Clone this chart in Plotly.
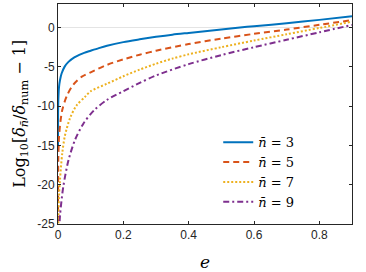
import plotly.graph_objects as go

# ---- data ----
e_n3 = [0.00002, 0.0003, 0.001, 0.003, 0.006, 0.011, 0.02, 0.032, 0.05, 0.065, 0.08, 0.1, 0.125, 0.15,
        0.2, 0.25, 0.3, 0.35, 0.4, 0.5, 0.55, 0.6, 0.7, 0.8, 0.9]
v_n3 = [-15, -11, -9.2, -7.6, -6.7, -5.85, -5.0, -4.37, -3.8, -3.48, -3.22, -2.95, -2.62, -2.32,
        -1.85, -1.5, -1.18, -0.9, -0.68, -0.25, -0.02, 0.18, 0.55, 0.98, 1.45]

e_n5 = [0.00003, 0.0003, 0.001, 0.003, 0.006, 0.013, 0.027, 0.047, 0.073, 0.1, 0.15, 0.2, 0.25, 0.3,
        0.4, 0.5, 0.6, 0.7, 0.8, 0.9]
v_n5 = [-26, -20, -16.5, -14, -12.5, -10.5, -8.7, -7.25, -6.25, -5.7, -4.75, -4.05, -3.45, -2.95,
        -2.1, -1.4, -0.8, -0.25, 0.35, 0.95]

e_n7 = [0.0002, 0.001, 0.003, 0.006, 0.013, 0.021, 0.037, 0.057, 0.083, 0.1, 0.15, 0.2, 0.25, 0.3,
        0.35, 0.4, 0.5, 0.6, 0.7, 0.8, 0.9]
v_n7 = [-30, -25, -21.5, -19.4, -16, -13.8, -11.5, -9.9, -8.8, -8.1, -7.15, -6.2, -5.35, -4.6,
        -3.95, -3.4, -2.5, -1.65, -0.85, -0.05, 0.75]

e_n9 = [0.001, 0.003, 0.006, 0.016, 0.032, 0.052, 0.078, 0.111, 0.15, 0.2, 0.25, 0.3, 0.4, 0.5,
        0.6, 0.7, 0.8, 0.9]
v_n9 = [-30, -26.5, -24, -20.3, -16.9, -14.3, -12.2, -10.5, -9.2, -8.1, -7.05, -6.1, -4.65, -3.5,
        -2.5, -1.55, -0.6, 0.33]

series_names = ["<i>n̄</i> = 3", "<i>n̄</i> = 5", "<i>n̄</i> = 7", "<i>n̄</i> = 9"]
x_ticks = [0, 0.2, 0.4, 0.6, 0.8]
x_ticklabels = ["0", "0.2", "0.4", "0.6", "0.8"]
y_ticks = [-25, -20, -15, -10, -5, 0]
y_ticklabels = ["-25", "-20", "-15", "-10", "-5", "0"]

colors = ["#0072BD", "#D95319", "#EDB120", "#7E2F8E"]
dashes = ["solid", "6px,4px", "2px,2px", "6px,3px,2px,3px"]

fig = go.Figure()
for ex, vy, name, c, d in zip([e_n3, e_n5, e_n7, e_n9], [v_n3, v_n5, v_n7, v_n9],
                              series_names, colors, dashes):
    fig.add_trace(go.Scatter(x=ex, y=vy, mode="lines", name=name,
                             line=dict(color=c, width=2, dash=d, shape="spline", smoothing=0.8)))

axis_col = "#262626"
fig.update_layout(
    width=366, height=272,
    margin=dict(l=58, r=14, t=4, b=48, autoexpand=False),
    paper_bgcolor="white", plot_bgcolor="white",
    font=dict(family="Liberation Sans, Arial, sans-serif", size=12, color=axis_col),
    showlegend=True,
    legend=dict(x=0.545, y=0.44, xanchor="left", yanchor="top",
                bgcolor="rgba(255,255,255,0)", borderwidth=0,
                font=dict(family="DejaVu Serif, serif", size=13, color="#000"),
                tracegroupgap=0),
    xaxis=dict(range=[0, 0.9], tickvals=x_ticks, ticktext=x_ticklabels,
               ticks="inside", ticklen=3, tickcolor=axis_col, showgrid=False,
               zeroline=False, showline=True, linecolor=axis_col, linewidth=1,
               mirror="ticks", fixedrange=True, automargin=False),
    yaxis=dict(range=[-25, 3], tickvals=y_ticks, ticktext=y_ticklabels,
               ticks="inside", ticklen=3, tickcolor=axis_col, showgrid=False,
               zeroline=True, zerolinecolor="#e4e4e4", zerolinewidth=1,
               showline=True, linecolor=axis_col, linewidth=1,
               mirror="ticks", fixedrange=True, automargin=False),
    annotations=[
        dict(text="Log<sub>10</sub>[<i>δ</i><sub><i>n̄</i></sub>/<i>δ</i><sub>num</sub> − 1]",
             xref="paper", yref="paper", x=-0.13, y=0.5, xanchor="center", yanchor="middle",
             textangle=-90, showarrow=False,
             font=dict(family="DejaVu Serif, serif", size=16, color="#000")),
        dict(text="<i>e</i>", xref="paper", yref="paper", x=0.5, y=-0.172,
             xanchor="center", yanchor="middle", showarrow=False,
             font=dict(family="DejaVu Serif, serif", size=17, color="#000")),
    ],
)

fig.write_html("out.html", config={"displayModeBar": False},
               post_script="document.body.style.margin='0';")
